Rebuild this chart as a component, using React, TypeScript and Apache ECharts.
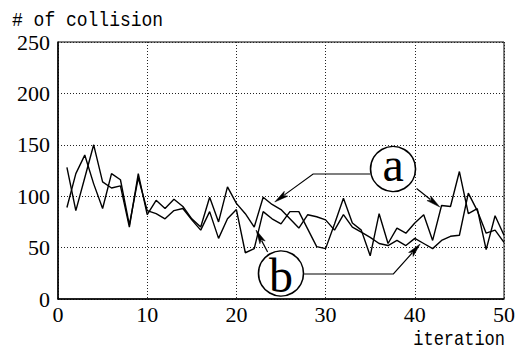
import React, { useEffect, useRef } from "react";
import * as echarts from "echarts";

// x values (iteration)
const iterations = [
  1, 2, 3, 4, 5, 6, 7, 8, 9, 10,
  11, 12, 13, 14, 15, 16, 17, 18, 19, 20,
  21, 22, 23, 24, 25, 26, 27, 28, 29, 30,
  31, 32, 33, 34, 35, 36, 37, 38, 39, 40,
  41, 42, 43, 44, 45, 46, 47, 48, 49, 50,
];

// # of collision, first curve
const seriesA = [
  128, 86, 118, 150, 114, 108, 110, 70, 122, 82,
  96, 88, 97, 90, 78, 70, 99, 75, 109, 93,
  83, 70, 99, 92, 87, 78, 69, 82, 80, 77,
  67, 82, 70, 65, 60, 54, 52, 57, 52, 59,
  54, 49, 57, 61, 62, 103, 86, 64, 67, 55,
];

// # of collision, second curve
const seriesB = [
  89, 122, 140, 112, 88, 122, 116, 72, 118, 86,
  83, 78, 86, 88, 77, 67, 85, 59, 78, 87,
  45, 49, 85, 78, 73, 85, 85, 68, 51, 49,
  73, 98, 74, 67, 42, 83, 54, 69, 64, 74,
  82, 57, 91, 90, 124, 83, 88, 48, 81, 62,
];

const yTitle = "# of collision";
const xTitle = "iteration";

// annotation labels and anchors in data units (iteration, value)
const labels = ["a", "b"];
const labelCenters = [
  [37.56, 126.5],
  [25.0, 24.8],
];
const leadersA = [
  [[35.0, 121.6], [28.6, 121.6], [24.3, 94.4]],
  [[40.2, 107.5], [42.8, 89.5]],
];
const leadersB = [
  [[23.5, 45.7], [22.2, 67.1]],
  [[27.6, 24.3], [37.6, 24.3], [40.6, 53.5]],
];

export default function App() {
  const ref = useRef<HTMLDivElement>(null);

  useEffect(() => {
    const chart = echarts.init(ref.current!, null, { renderer: "svg" });
    const digitFont = "'Liberation Serif', 'DejaVu Serif', serif";
    const monoFont = "'Liberation Mono', 'DejaVu Sans Mono', monospace";
    const split = { show: true, lineStyle: { color: "#222", type: [1, 2], width: 1 } };

    chart.setOption({
      animation: false,
      backgroundColor: "#ffffff",
      grid: {
        left: 58,
        right: 23,
        top: 42,
        bottom: 52,
        show: true,
        borderColor: "#000",
        borderWidth: 1,
        backgroundColor: "transparent",
      },
      xAxis: {
        type: "value",
        min: 0,
        max: 50,
        interval: 10,
        axisLine: { show: true, onZero: false, lineStyle: { color: "#000", width: 1.5 } },
        axisTick: { show: false },
        axisLabel: { color: "#000", fontFamily: digitFont, fontSize: 22, margin: 4 },
        splitLine: split,
      },
      yAxis: {
        type: "value",
        min: 0,
        max: 250,
        interval: 50,
        axisLine: { show: true, onZero: false, lineStyle: { color: "#000", width: 1.5 } },
        axisTick: { show: false },
        axisLabel: { color: "#000", fontFamily: digitFont, fontSize: 22, margin: 8 },
        splitLine: split,
      },
      series: [
        {
          type: "line",
          data: iterations.map((x, i) => [x, seriesA[i]]),
          symbol: "none",
          showSymbol: false,
          lineStyle: { color: "#000", width: 1.4 },
        },
        {
          type: "line",
          data: iterations.map((x, i) => [x, seriesB[i]]),
          symbol: "none",
          showSymbol: false,
          lineStyle: { color: "#000", width: 1.4 },
        },
      ],
    });

    const toPx = (p: number[]) => chart.convertToPixel({ gridIndex: 0 }, p) as number[];

    const graphics: any[] = [];
    const addArrow = (pts: number[][]) => {
      const px = pts.map(toPx);
      const tip = px[px.length - 1];
      const prev = px[px.length - 2];
      const dx = tip[0] - prev[0];
      const dy = tip[1] - prev[1];
      const len = Math.hypot(dx, dy);
      const ux = dx / len;
      const uy = dy / len;
      const L = 14;
      const W = 3;
      const bx = tip[0] - ux * L;
      const by = tip[1] - uy * L;
      const linePts = px.slice(0, -1).concat([[bx + ux * 2, by + uy * 2]]);
      graphics.push({
        type: "polyline",
        shape: { points: linePts },
        style: { stroke: "#000", lineWidth: 1.2, fill: null },
      });
      graphics.push({
        type: "polygon",
        shape: {
          points: [
            tip,
            [bx - uy * W, by + ux * W],
            [bx + ux * 3, by + uy * 3],
            [bx + uy * W, by - ux * W],
          ],
        },
        style: { fill: "#000", stroke: "#000", lineWidth: 0.5 },
      });
    };
    leadersA.forEach(addArrow);
    leadersB.forEach(addArrow);

    labels.forEach((lab, i) => {
      const c = toPx(labelCenters[i]);
      graphics.push({
        type: "circle",
        shape: { cx: c[0], cy: c[1], r: 22.5 },
        style: { stroke: "#000", lineWidth: 1.6, fill: "#fff" },
      });
      const yOff = lab === "a" ? -4 : 2;
      graphics.push({
        type: "text",
        x: c[0],
        y: c[1] + yOff,
        style: {
          text: lab,
          fontFamily: "'Liberation Serif', 'DejaVu Serif', serif",
          fontSize: 48,
          fill: "#000",
          align: "center",
          verticalAlign: "middle",
          textAlign: "center",
          textVerticalAlign: "middle",
        },
      });
    });

    graphics.push({
      type: "text",
      x: 12,
      y: 20.5,
      scaleX: 0.857,
      style: {
        text: yTitle,
        fontFamily: monoFont,
        fontSize: 21,
        fill: "#000",
        align: "left",
        verticalAlign: "middle",
        textAlign: "left",
        textVerticalAlign: "middle",
      },
    });
    graphics.push({
      type: "text",
      x: 505,
      y: 340.5,
      scaleX: 0.85,
      style: {
        text: xTitle,
        fontFamily: monoFont,
        fontSize: 20,
        fill: "#000",
        align: "right",
        verticalAlign: "middle",
        textAlign: "right",
        textVerticalAlign: "middle",
      },
    });

    chart.setOption({ graphic: graphics });

    return () => chart.dispose();
  }, []);

  return (
    <div
      ref={ref}
      style={{ position: "absolute", left: 0, top: 0, width: 527, height: 351 }}
    />
  );
}
